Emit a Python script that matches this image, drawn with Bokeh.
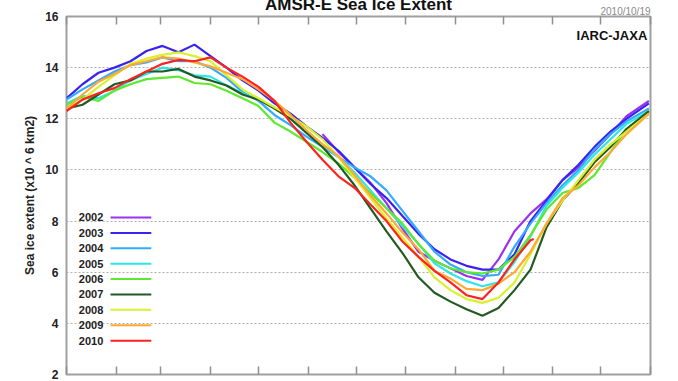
from bokeh.plotting import figure
from bokeh.models import Range1d, FixedTicker, LinearAxis, Label, ColumnDataSource, Title
from bokeh.embed import file_html
from bokeh.resources import INLINE
from bokeh.core.properties import value

# ---------------- data (sea ice extent, x10^6 km2) ----------------
years = ["2002", "2003", "2004", "2005", "2006", "2007", "2008", "2009", "2010"]
colors = ["#9b30f0", "#3a22f0", "#33aaff", "#2ee6e6", "#5fe830", "#225a22", "#d9f02c", "#ffa833", "#ff2020"]

days_full = [0, 10, 20, 30, 40, 50, 60, 70, 80, 90, 100, 110, 120, 130, 140, 150, 160, 170,
             180, 190, 200, 210, 220, 230, 240, 250, 260, 270, 280, 290, 300, 310, 320, 330,
             340, 350, 364]
days_2002 = [160, 170, 180, 190, 200, 210, 220, 230, 240, 250, 260, 270, 280, 290, 300, 310,
             320, 330, 340, 350, 364]
days_2010 = [0, 10, 20, 30, 40, 50, 60, 70, 80, 90, 100, 110, 120, 130, 140, 150, 160, 170,
             180, 190, 200, 210, 220, 230, 240, 250, 260, 270, 280, 290, 292]

ext_2002 = [11.4, 10.7, 10.1, 9.5, 8.7, 7.7, 6.8, 6.45, 6.15, 5.85, 5.7, 6.5, 7.6, 8.3, 8.85,
            9.6, 10.1, 10.75, 11.4, 12.1, 12.7]
ext_2003 = [12.8, 13.35, 13.8, 14.0, 14.25, 14.65, 14.85, 14.6, 14.9, 14.45, 14.0, 13.5, 13.1,
            12.6, 12.2, 11.7, 11.25, 10.75, 10.1, 9.45, 8.9, 8.2, 7.5, 6.9, 6.5, 6.25, 6.1, 6.1,
            6.7, 8.0, 8.8, 9.6, 10.2, 10.9, 11.5, 12.0, 12.6]
ext_2004 = [12.75, 13.15, 13.5, 13.85, 14.1, 14.2, 14.4, 14.25, 14.25, 14.0, 13.6, 13.05, 12.7,
            12.15, 11.75, 11.3, 10.9, 10.5, 10.1, 9.75, 9.2, 8.4, 7.6, 6.8, 6.3, 6.0, 5.85, 5.9,
            7.0, 7.9, 8.7, 9.4, 10.0, 10.8, 11.4, 11.9, 12.4]
ext_2005 = [12.6, 12.9, 12.8, 13.1, 13.5, 13.75, 14.0, 13.9, 13.7, 13.65, 13.3, 13.0, 12.75,
            12.45, 12.0, 11.5, 11.0, 10.5, 9.9, 9.2, 8.5, 7.8, 7.1, 6.35, 5.95, 5.65, 5.45, 5.6,
            6.4, 7.4, 8.6, 9.3, 9.9, 10.6, 11.2, 11.8, 12.3]
ext_2006 = [12.55, 12.85, 12.7, 13.1, 13.35, 13.55, 13.6, 13.65, 13.4, 13.35, 13.1, 12.8, 12.5,
            11.85, 11.5, 11.1, 10.7, 10.25, 9.7, 9.1, 8.5, 7.9, 7.1, 6.45, 6.15, 6.0, 5.95, 6.1,
            6.6, 7.45, 8.45, 9.1, 9.3, 9.8, 10.7, 11.6, 12.3]
ext_2007 = [12.4, 12.55, 12.95, 13.35, 13.5, 13.85, 13.85, 13.95, 13.65, 13.5, 13.3, 12.95, 12.75,
            12.4, 12.0, 11.45, 10.9, 10.2, 9.4, 8.5, 7.6, 6.75, 5.8, 5.2, 4.85, 4.55, 4.3, 4.6,
            5.3, 6.1, 7.75, 8.8, 9.5, 10.3, 10.9, 11.6, 12.3]
ext_2008 = [12.4, 12.75, 13.25, 13.7, 14.15, 14.35, 14.5, 14.6, 14.45, 14.25, 13.7, 13.15, 12.8,
            12.45, 12.1, 11.7, 11.2, 10.5, 9.7, 8.9, 8.1, 7.35, 6.6, 5.8, 5.3, 4.95, 4.8, 5.0,
            5.6, 6.7, 7.9, 8.8, 9.6, 10.4, 11.0, 11.5, 12.2]
ext_2009 = [12.4, 12.95, 13.45, 13.75, 14.1, 14.25, 14.4, 14.35, 14.2, 14.05, 13.8, 13.55, 13.15,
            12.7, 12.15, 11.55, 11.0, 10.55, 9.8, 9.0, 8.3, 7.55, 6.9, 6.05, 5.75, 5.35, 5.3,
            5.55, 6.0, 6.8, 7.9, 8.9, 9.4, 10.1, 10.7, 11.4, 12.2]
ext_2010 = [12.3, 12.75, 13.0, 13.2, 13.55, 13.85, 14.15, 14.3, 14.25, 14.4, 14.0, 13.65, 13.25,
            12.7, 11.85, 11.1, 10.4, 9.75, 9.3, 8.65, 8.0, 7.2, 6.6, 6.05, 5.6, 5.1, 4.95, 5.6,
            6.5, 7.25, 7.3]

series_days = [days_2002, days_full, days_full, days_full, days_full, days_full, days_full,
               days_full, days_2010]
series_ext = [ext_2002, ext_2003, ext_2004, ext_2005, ext_2006, ext_2007, ext_2008, ext_2009,
              ext_2010]

month_starts = [0, 31, 59, 90, 120, 151, 181, 212, 243, 273, 304, 334, 365]
y_ticks = [2, 4, 6, 8, 10, 12, 14, 16]

title_text = "AMSR-E Sea Ice Extent"
date_text = "2010/10/19"
source_text = "IARC-JAXA"
y_label = "Sea ice extent (x10 ^ 6 km2)"

# legend layout (data units)
LEG_TOP = 8.14
LEG_STEP = 0.602
LEG_X0 = 27.5
LEG_X1 = 53.0
LEG_TX = 23.0

FONT = "Liberation Sans"
GREY = "#a0a0a0"

p = figure(width=678, height=381, x_range=Range1d(0, 365), y_range=Range1d(2, 16),
           output_backend="svg", toolbar_location=None, title=None,
           min_border_left=66, min_border_right=28, min_border_top=16, min_border_bottom=7,
           background_fill_color="white", border_fill_color="white")

p.outline_line_color = GREY
p.outline_line_width = 2

blank = {t: "" for t in month_starts}


def style_month_axis(ax):
    ax.ticker = FixedTicker(ticks=month_starts)
    ax.major_label_overrides = blank
    ax.major_label_text_font_size = "1px"
    ax.major_label_standoff = 0
    ax.major_tick_in = 8
    ax.major_tick_out = 0
    ax.minor_tick_line_color = None
    ax.axis_line_color = None
    ax.major_tick_line_color = "#909090"
    ax.major_tick_line_width = 1.5


style_month_axis(p.xaxis[0])
top = LinearAxis()
style_month_axis(top)
p.add_layout(top, "above")

# date stamp (right, just above the frame) and the main title (cut at the page top)
p.add_layout(Title(text=date_text, align="right", text_font=FONT, text_font_size="10px",
                   text_font_style="normal", text_color="#8a8a8a", standoff=0), "above")
p.add_layout(Title(text=title_text, align="center", text_font=FONT, text_font_size="17px",
                   text_font_style="bold", text_color="#111111", standoff=-20), "above")

ya = p.yaxis[0]
ya.ticker = FixedTicker(ticks=y_ticks)
ya.major_label_text_font = FONT
ya.major_label_text_font_size = "12px"
ya.major_label_text_font_style = "bold"
ya.major_label_text_color = "#222222"
ya.major_label_standoff = 8
ya.major_tick_in = 0
ya.major_tick_out = 0
ya.minor_tick_line_color = None
ya.axis_line_color = None
ya.axis_label = y_label
ya.axis_label_text_font = FONT
ya.axis_label_text_font_size = "12px"
ya.axis_label_text_font_style = "bold"
ya.axis_label_text_color = "#222222"
ya.axis_label_standoff = 5

p.xgrid.visible = False
p.ygrid.ticker = FixedTicker(ticks=y_ticks)
p.ygrid.grid_line_color = "#b0b0b0"
p.ygrid.grid_line_dash = "2 2"
p.ygrid.grid_line_width = 1

for d, e, c in zip(series_days, series_ext, colors):
    p.line(d, e, line_color=c, line_width=2.2)

# legend (label left of sample line)
leg_y = [LEG_TOP - i * LEG_STEP for i in range(len(years))]
leg_src = ColumnDataSource(dict(x0=[LEG_X0] * len(years), x1=[LEG_X1] * len(years),
                                y=leg_y, c=colors, t=years, tx=[LEG_TX] * len(years)))
p.segment(x0="x0", y0="y", x1="x1", y1="y", line_color="c", line_width=2, source=leg_src)
p.text(x="tx", y="y", text="t", source=leg_src, text_align="right", text_baseline="middle",
       text_font=value(FONT), text_font_size="11px", text_font_style="bold", text_color="#222222")

p.add_layout(Label(x=363, y=15.26, text=source_text, text_align="right",
                   text_baseline="alphabetic", text_font=FONT, text_font_size="13px",
                   text_font_style="bold", text_color="#111111"))

open("out.html", "w").write(file_html(p, INLINE))
